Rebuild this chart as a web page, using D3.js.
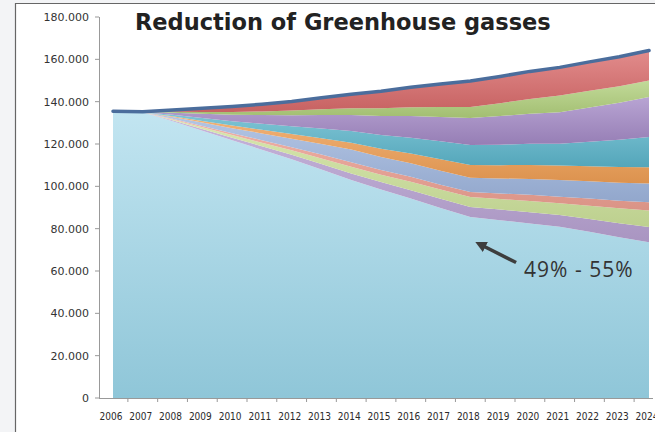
<!DOCTYPE html>
<html>
<head>
<meta charset="utf-8">
<script src="https://cdn.jsdelivr.net/npm/d3@7"></script>
<style>
  body { margin: 0; background: #f3f4f6; }
  svg { display: block; }
  .tick-y { font-family: "DejaVu Sans", Verdana, sans-serif; font-size: 11px; fill: #333; }
  .tick-x { font-family: "Liberation Sans Narrow", "DejaVu Sans Condensed", sans-serif; font-size: 10px; fill: #2a2a2a; }
</style>
</head>
<body>
<div id="chart"></div>
<script>
// values in thousands
const years = ["2006","2007","2008","2009","2010","2011","2012","2013","2014","2015",
               "2016","2017","2018","2019","2020","2021","2022","2023","2024"];

const base       = [135.5,135.0,130.8,126.3,121.8,117.3,112.8,108.0,103.0,98.5,94.3,89.8,85.5,84.0,82.5,80.9,78.5,76.0,73.6];
const lavender   = [0,0,0.4,0.8,1.2,1.6,2.1,2.6,3.1,3.5,3.9,4.3,4.7,5.0,5.3,5.6,6.1,6.6,7.2];
const lightGreen = [0,0,0.4,0.8,1.2,1.7,2.1,2.6,3.1,3.5,4.0,4.4,4.8,5.0,5.3,5.5,6.2,7.0,7.8];
const salmon     = [0,0,0.3,0.6,0.9,1.2,1.5,1.8,2.2,2.2,2.3,2.3,2.3,2.6,2.9,3.1,3.4,3.6,3.9];
const periwinkle = [0,0,0.8,1.6,2.4,3.2,4.0,5.0,6.0,6.2,6.4,6.6,6.7,7.1,7.5,7.9,8.2,8.5,8.8];
const orange     = [0,0,0.4,0.8,1.2,1.7,2.2,2.7,3.2,3.9,4.6,5.4,6.1,6.3,6.6,6.8,7.1,7.4,7.7];
const teal       = [0,0,0.7,1.4,2.1,2.9,3.7,4.6,5.5,6.5,7.5,8.5,9.4,9.7,10.0,10.3,11.6,12.9,14.3];
const purple     = [0,0.1,1.0,2.0,3.0,4.1,5.2,6.4,7.6,8.9,10.2,11.5,12.8,13.5,14.2,14.9,16.2,17.5,18.9];
const green      = [0,0,0.4,0.8,1.3,1.7,2.2,2.7,3.2,3.7,4.2,4.7,5.2,6.1,7.0,7.9,7.9,7.8,7.8];
const red        = [0,0.1,0.9,1.8,2.6,3.4,4.3,5.4,6.6,8.0,9.4,10.9,12.3,12.6,13.0,13.3,13.6,13.9,14.2];

const seriesNames = ["base","lavender","lightGreen","salmon","periwinkle","orange","teal","purple","green","red"];
const seriesValues = [base, lavender, lightGreen, salmon, periwinkle, orange, teal, purple, green, red];
const colors = ["#a6d7e6","#b9a3d3","#cfe39c","#eea193","#a0b7df","#f0a055","#5cb6cb","#a48ac6","#b1d07c","#da6b6b"];

const yTicks = [0,20,40,60,80,100,120,140,160,180];
const yTickLabels = ["0","20.000","40.000","60.000","80.000","100.000","120.000","140.000","160.000","180.000"];

const title = "Reduction of Greenhouse gasses";
const note = "49% - 55%";

const width = 655, height = 432;
const margin = { top: 17, right: 6, bottom: 34, left: 113 };

const svg = d3.select("#chart").append("svg")
    .attr("width", width)
    .attr("height", height);

// frame
svg.append("rect")
    .attr("x", 15).attr("y", 3)
    .attr("width", width - 15).attr("height", height - 3)
    .attr("fill", "#fff");
svg.append("path")
    .attr("d", `M15.5,${height}V3.5H${width}`)
    .attr("fill", "none")
    .attr("stroke", "#666")
    .attr("stroke-width", 1.2);

const x = d3.scalePoint()
    .domain(years)
    .range([margin.left, width - margin.right]);

const y = d3.scaleLinear()
    .domain([0, 180])
    .range([height - margin.bottom, margin.top]);

const table = years.map((yr, i) => {
    const row = { year: yr };
    seriesNames.forEach((n, k) => row[n] = seriesValues[k][i]);
    return row;
});

const stack = d3.stack().keys(seriesNames)(table);

const defs = svg.append("defs");
colors.forEach((c, i) => {
    const g = defs.append("linearGradient")
        .attr("id", "grad" + i)
        .attr("x1", 0).attr("y1", 0).attr("x2", 0).attr("y2", 1);
    const top = i == 0 ? "#c2e5f1" : d3.interpolateRgb(c, "#fff")(0.22);
    const bot = i == 0 ? "#8fc6d8" : d3.color(c).darker(0.25);
    g.append("stop").attr("offset", "0%").attr("stop-color", top);
    g.append("stop").attr("offset", "100%").attr("stop-color", bot);
});

const area = d3.area()
    .x(d => x(d.data.year))
    .y0(d => y(d[0]))
    .y1(d => y(d[1]));

svg.append("g")
    .selectAll("path")
    .data(stack)
    .join("path")
    .attr("fill", (d, i) => `url(#grad${i})`)
    .attr("d", area);

// total line on top
const line = d3.line()
    .x(d => x(d.data.year))
    .y(d => y(d[1]));

svg.append("path")
    .datum(stack[stack.length - 1])
    .attr("fill", "none")
    .attr("stroke", "#4b6d9c")
    .attr("stroke-width", 3.5)
    .attr("stroke-linecap", "round")
    .attr("d", line);

// y axis
const yAxisX = 99;
svg.append("line")
    .attr("x1", yAxisX + 0.5).attr("x2", yAxisX + 0.5)
    .attr("y1", y(180)).attr("y2", y(0))
    .attr("stroke", "#999");

const yt = svg.append("g").selectAll("g")
    .data(yTicks)
    .join("g")
    .attr("transform", d => `translate(0,${y(d)})`);
yt.append("line")
    .attr("x1", yAxisX - 4).attr("x2", yAxisX)
    .attr("stroke", "#999");
yt.append("text")
    .attr("class", "tick-y")
    .attr("x", 89)
    .attr("dy", "0.35em")
    .attr("text-anchor", "end")
    .text((d, i) => yTickLabels[i]);

// x axis
svg.append("line")
    .attr("x1", yAxisX).attr("x2", width - 2)
    .attr("y1", y(0) + 0.5).attr("y2", y(0) + 0.5)
    .attr("stroke", "#999");

const step = x.step();
svg.append("g").selectAll("line")
    .data(years.slice(1))
    .join("line")
    .attr("x1", d => x(d) - step / 2).attr("x2", d => x(d) - step / 2)
    .attr("y1", y(0)).attr("y2", y(0) + 4)
    .attr("stroke", "#999");

svg.append("g").selectAll("text")
    .data(years)
    .join("text")
    .attr("class", "tick-x")
    .attr("x", d => x(d) - 2)
    .attr("y", y(0) + 22)
    .attr("text-anchor", "middle")
    .text(d => d);

// title
svg.append("text")
    .attr("x", 135)
    .attr("y", 30)
    .attr("font-family", "'DejaVu Sans', Verdana, sans-serif")
    .attr("font-weight", "bold")
    .attr("font-size", 22.5)
    .attr("fill", "#222")
    .text(title);

// annotation arrow
defs.append("marker")
    .attr("id", "head")
    .attr("viewBox", "0 0 10 10")
    .attr("refX", 2).attr("refY", 5)
    .attr("markerWidth", 3.2).attr("markerHeight", 3.2)
    .attr("orient", "auto")
    .append("path")
    .attr("d", "M0,0L10,5L0,10z")
    .attr("fill", "#3d3d3d");

svg.append("line")
    .attr("x1", x("2019") + 16).attr("y1", y(64))
    .attr("x2", x("2018") + 13).attr("y2", y(71.8))
    .attr("stroke", "#3d3d3d")
    .attr("stroke-width", 3.5)
    .attr("marker-end", "url(#head)");

svg.append("text")
    .attr("x", x("2019") + 24)
    .attr("y", y(57.2))
    .attr("font-family", "'Open Sans', sans-serif")
    .attr("font-size", 21)
    .attr("letter-spacing", 1)
    .attr("fill", "#333")
    .text(note);
</script>
</body>
</html>
